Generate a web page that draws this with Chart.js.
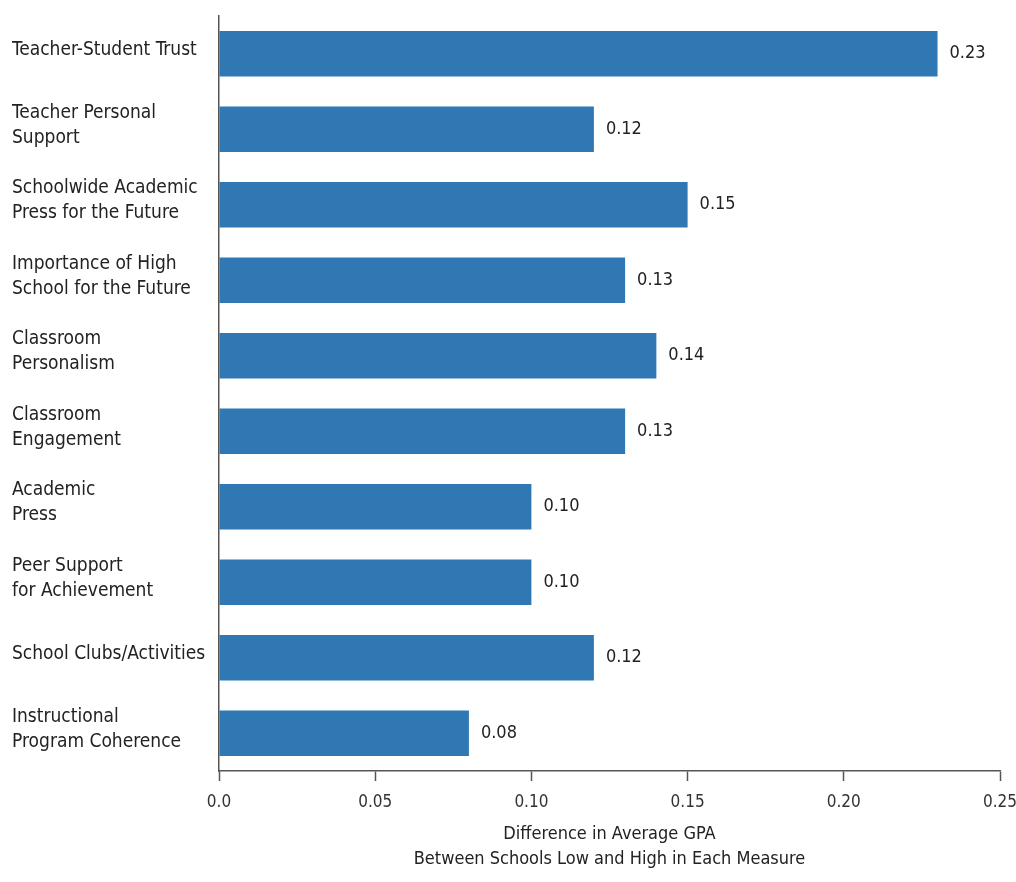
<!DOCTYPE html>
<html>
<head>
<meta charset="utf-8">
<script src="https://cdn.jsdelivr.net/npm/chart.js@4.4.0/dist/chart.umd.min.js"></script>
<style>
  html, body { margin: 0; padding: 0; background: #fff; }
  #wrap { width: 1016px; height: 882px; position: relative; }
</style>
</head>
<body>
<div id="wrap"><canvas id="chart"></canvas></div>
<script>
// categories, top to bottom
const measures = [
    ["Teacher-Student Trust"],
    ["Teacher Personal", "Support"],
    ["Schoolwide Academic", "Press for the Future"],
    ["Importance of High", "School for the Future"],
    ["Classroom", "Personalism"],
    ["Classroom", "Engagement"],
    ["Academic", "Press"],
    ["Peer Support", "for Achievement"],
    ["School Clubs/Activities"],
    ["Instructional", "Program Coherence"],
]
// GPA difference between low and high schools
const gpaDiff = [0.23, 0.12, 0.15, 0.13, 0.14, 0.13, 0.10, 0.10, 0.12, 0.08]
const xTicks = [0, 0.05, 0.10, 0.15, 0.20, 0.25]
const xTickLabels = ["0.0", "0.05", "0.10", "0.15", "0.20", "0.25"]
const axisTitle = ["Difference in Average GPA", "Between Schools Low and High in Each Measure"]

const FONT = "'Liberation Sans Narrow', 'DejaVu Sans Condensed', 'Arial Narrow', sans-serif"

// writes the value next to the end of each bar
const valueLabels = {
    id: "valueLabels",
    afterDatasetsDraw(chart) {
        const ctx = chart.ctx
        const meta = chart.getDatasetMeta(0)
        ctx.save()
        ctx.font = "18px " + FONT
        ctx.fillStyle = "#222"
        ctx.textAlign = "left"
        ctx.textBaseline = "middle"
        meta.data.forEach((bar, i) => {
            ctx.fillText(gpaDiff[i].toFixed(2), bar.x + 12, bar.y)
        })
        ctx.restore()
    },
}

new Chart(document.getElementById("chart"), {
    type: "bar",
    data: {
        labels: measures,
        datasets: [{
            data: gpaDiff,
            backgroundColor: "#2f78b4",
            barPercentage: 0.6,
            categoryPercentage: 1.0,
        }],
    },
    plugins: [valueLabels],
    options: {
        indexAxis: "y",
        responsive: true,
        maintainAspectRatio: false,
        animation: false,
        layout: { padding: { left: 12, right: 16, top: 16, bottom: 10 } },
        plugins: {
            legend: { display: false },
            tooltip: { enabled: false },
        },
        scales: {
            x: {
                min: 0,
                max: 0.25,
                afterBuildTicks: (axis) => { axis.ticks = xTicks.map(v => ({ value: v })) },
                afterFit: (axis) => {
                    axis.height = 101
                    axis.paddingLeft = 0
                    axis.paddingRight = 0
                },
                grid: { drawOnChartArea: false, drawTicks: true, tickLength: 10, color: "#555", tickWidth: 1.5 },
                border: { color: "#555", width: 1.5 },
                ticks: {
                    color: "#333",
                    font: { family: FONT, size: 17 },
                    padding: 11,
                    maxRotation: 0,
                    callback: (v, i) => xTickLabels[i],
                },
                title: {
                    display: true,
                    text: axisTitle,
                    color: "#222",
                    font: { family: FONT, size: 18, lineHeight: 1.4 },
                    padding: { top: 0, bottom: 0 },
                },
            },
            y: {
                grid: { drawOnChartArea: false, drawTicks: false },
                border: { color: "#555", width: 1.5 },
                afterFit: (axis) => {
                    axis.width = 207
                    axis.paddingTop = 0
                    axis.paddingBottom = 0
                },
                ticks: {
                    color: "#222",
                    crossAlign: "far",
                    padding: 0,
                    labelOffset: -4,
                    font: { family: FONT, size: 19, lineHeight: 1.3 },
                },
            },
        },
    },
})
</script>
</body>
</html>
